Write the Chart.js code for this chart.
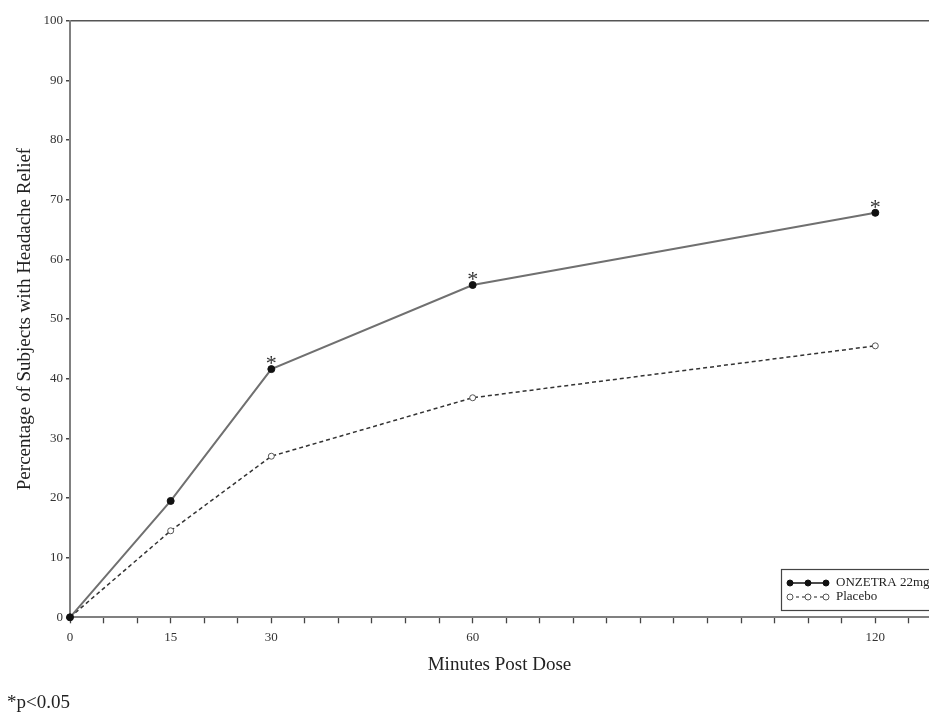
<!DOCTYPE html>
<html>
<head>
<meta charset="utf-8">
<script src="https://cdn.jsdelivr.net/npm/chart.js@4/dist/chart.umd.min.js"></script>
<style>
  body { margin: 0; background: #fff; }
  #wrap { position: relative; width: 929px; height: 716px; }
</style>
</head>
<body>
<div id="wrap"><canvas id="reliefChart"></canvas></div>
<script>
// Données
const minutes = [0, 15, 30, 60, 120];
const onzetra = [0, 19.5, 41.6, 55.7, 67.8];
const placebo = [0, 14.5, 27.0, 36.8, 45.5];
const significant = [false, false, true, true, true];
const xTickLabels = [0, 15, 30, 60, 120];
const seriesNames = ['ONZETRA 22mg', 'Placebo'];
const footnote = '*p<0.05';

const serif = '"Liberation Serif", "Times New Roman", serif';
const axisGrey = '#808080';

// Astérisques + légende + note
const annotations = {
    id: 'annotations',
    afterDatasetsDraw(chart) {
        const ctx = chart.ctx;
        const meta = chart.getDatasetMeta(0);
        ctx.save();
        ctx.fillStyle = '#333';
        ctx.font = '22px ' + serif;
        ctx.textAlign = 'center';
        ctx.textBaseline = 'alphabetic';
        meta.data.forEach((pt, i) => {
            if (significant[i]) ctx.fillText('*', pt.x, pt.y + 1);
        });
        ctx.restore();
    },
    afterDraw(chart) {
        const ctx = chart.ctx;
        ctx.save();
        // légende
        ctx.strokeStyle = '#444';
        ctx.lineWidth = 1.2;
        ctx.strokeRect(781.5, 569.5, 160, 41);
        const rows = [
            { y: 583, dash: [], fill: '#111', stroke: '#111' },
            { y: 597, dash: [3, 3], fill: '#fff', stroke: '#555' }
        ];
        rows.forEach((r, i) => {
            ctx.beginPath();
            ctx.setLineDash(r.dash);
            ctx.strokeStyle = r.stroke;
            ctx.lineWidth = 1.3;
            ctx.moveTo(790, r.y);
            ctx.lineTo(826, r.y);
            ctx.stroke();
            ctx.setLineDash([]);
            [790, 808, 826].forEach(x => {
                ctx.beginPath();
                ctx.arc(x, r.y, 3, 0, Math.PI * 2);
                ctx.fillStyle = r.fill;
                ctx.fill();
                ctx.lineWidth = 1;
                ctx.stroke();
            });
            ctx.fillStyle = '#222';
            ctx.font = '13px ' + serif;
            ctx.textAlign = 'left';
            ctx.textBaseline = 'middle';
            ctx.fillText(seriesNames[i], 836, r.y);
        });
        // note de bas de page
        ctx.fillStyle = '#222';
        ctx.font = '19px ' + serif;
        ctx.textBaseline = 'middle';
        ctx.fillText(footnote, 7, 703);
        ctx.restore();
    }
};

const ctx = document.getElementById('reliefChart').getContext('2d');
new Chart(ctx, {
    type: 'line',
    data: {
        datasets: [{
            label: seriesNames[0],
            data: minutes.map((m, i) => ({ x: m, y: onzetra[i] })),
            borderColor: '#707070',
            borderWidth: 2,
            pointRadius: 3.5,
            pointBackgroundColor: '#111',
            pointBorderColor: '#111',
            pointBorderWidth: 1,
            tension: 0,
            clip: false
        }, {
            label: seriesNames[1],
            data: minutes.map((m, i) => ({ x: m, y: placebo[i] })),
            borderColor: '#333',
            borderWidth: 1.5,
            borderDash: [4, 3],
            pointRadius: 3,
            pointBackgroundColor: '#fff',
            pointBorderColor: '#555',
            pointBorderWidth: 1,
            tension: 0,
            clip: false,
            order: 1
        }]
    },
    options: {
        responsive: true,
        maintainAspectRatio: false,
        animation: false,
        layout: { autoPadding: false, padding: { top: 20.7, right: 0, bottom: 40, left: 0 } },
        plugins: { legend: { display: false }, tooltip: { enabled: false } },
        scales: {
            x: {
                type: 'linear',
                min: 0,
                max: 128,
                afterFit: s => { s.height = 58.7; s.paddingRight = 0; s.paddingLeft = 0; },
                border: { color: axisGrey, width: 2 },
                grid: { drawOnChartArea: false, tickColor: '#444', tickLength: 6, tickWidth: 1.3 },
                ticks: {
                    stepSize: 5,
                    includeBounds: false,
                    autoSkip: false,
                    maxRotation: 0,
                    padding: 6,
                    color: '#333',
                    font: { family: serif, size: 13 },
                    callback: v => xTickLabels.includes(v) ? String(v) : ''
                },
                title: {
                    display: true,
                    text: 'Minutes Post Dose',
                    color: '#222',
                    font: { family: serif, size: 19 },
                    padding: { top: 0, bottom: 0 }
                }
            },
            y: {
                min: 0,
                max: 100,
                afterFit: s => { s.width = 70; },
                border: { color: axisGrey, width: 2 },
                grid: {
                    color: c => c.tick && c.tick.value === 100 ? '#555' : 'rgba(0,0,0,0)',
                    lineWidth: 1.5,
                    tickColor: '#444',
                    tickLength: 4
                },
                ticks: {
                    stepSize: 10,
                    padding: 3,
                    color: '#333',
                    font: { family: serif, size: 13 }
                },
                title: {
                    display: true,
                    text: 'Percentage of Subjects with Headache Relief',
                    color: '#222',
                    font: { family: serif, size: 19 },
                    padding: { top: 13.6, bottom: 0 }
                }
            }
        }
    },
    plugins: [annotations]
});
</script>
</body>
</html>
